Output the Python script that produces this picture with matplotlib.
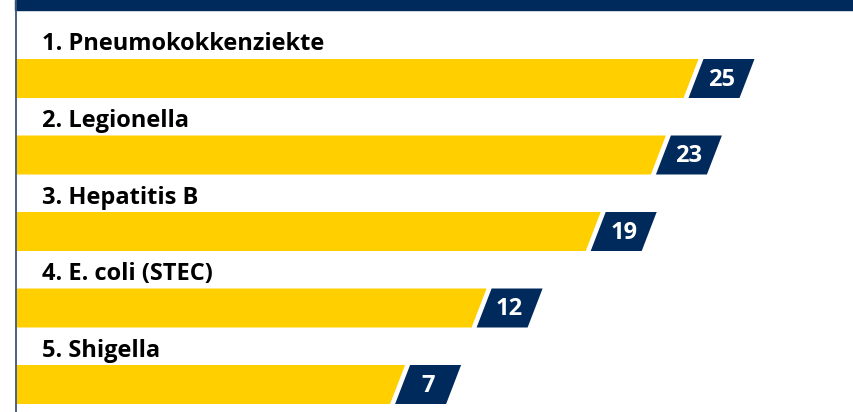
import matplotlib.pyplot as plt
from matplotlib.patches import Polygon, Rectangle

# data
diseases = ["Pneumokokkenziekte", "Legionella", "Hepatitis B", "E. coli (STEC)", "Shigella"]
cases = [25, 23, 19, 12, 7]

NAVY = "#002a5c"
YELLOW = "#ffcf00"

W, H = 854, 412
PX_PER_UNIT = 16.3        # horizontal scale of the bars
ZERO_PX = 291.0           # pixel where value 0 would sit
ROW_PX = 76.5             # vertical distance between rows
FIRST_ROW_PX = 78.5


def main():
    fig = plt.figure(figsize=(W / 100, H / 100), dpi=100)
    ax = fig.add_axes([0, 0, 1, 1])
    ax.set_xlim(-ZERO_PX / PX_PER_UNIT, (W - ZERO_PX) / PX_PER_UNIT)
    ax.set_ylim((H - FIRST_ROW_PX) / ROW_PX, -FIRST_ROW_PX / ROW_PX)
    ax.axis("off")

    ux = 1 / PX_PER_UNIT   # one pixel in x data units
    uy = 1 / ROW_PX        # one pixel in y data units
    x0 = ax.get_xlim()[0]
    x_start = x0 + 17 * ux
    half = 19.5 * uy
    slant = 15 * ux
    gap = 5 * ux
    box_w = 51 * ux

    # header band and left rule
    ax.add_patch(Rectangle((x0 + 15 * ux, ax.get_ylim()[1]),
                           (W - 15) * ux, 10 * uy, color=NAVY, clip_on=False))
    ax.axvline(x0 + 15.8 * ux, color="#3c5577", lw=1.3)

    for i, (name, val) in enumerate(zip(diseases, cases)):
        top, bot = i - half, i + half
        bar = [(x_start, top), (val, top), (val - slant, bot), (x_start, bot)]
        ax.add_patch(Polygon(bar, closed=True, color=YELLOW, lw=0))

        bx = val + gap
        box = [(bx, top), (bx + box_w, top), (bx + box_w - slant, bot), (bx - slant, bot)]
        ax.add_patch(Polygon(box, closed=True, color=NAVY, lw=0))
        ax.text(bx + box_w / 2 - slant / 2, i + 1 * uy, str(val), color="white",
                fontsize=17, fontweight="bold", family="Open Sans",
                ha="center", va="center")

        ax.text(x0 + 42 * ux, i - 34 * uy, f"{i + 1}. {name}",
                color="black", fontsize=17, fontweight="bold", family="Open Sans",
                ha="left", va="center")

    fig.savefig("out.png", dpi=100)
    plt.close(fig)


if __name__ == "__main__":
    main()
